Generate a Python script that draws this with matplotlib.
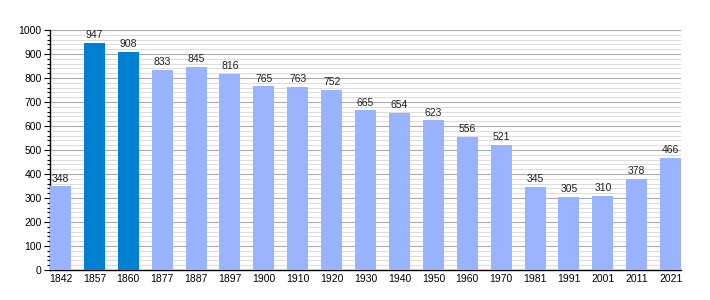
import matplotlib
matplotlib.use('Agg')
import matplotlib.pyplot as plt
from matplotlib.ticker import MultipleLocator

plt.rcParams['font.family'] = ['Liberation Sans', 'DejaVu Sans']

years = ['1842', '1857', '1860', '1877', '1887', '1897', '1900', '1910', '1920', '1930',
         '1940', '1950', '1960', '1970', '1981', '1991', '2001', '2011', '2021']
population = [348, 947, 908, 833, 845, 816, 765, 763, 752, 665,
              654, 623, 556, 521, 345, 305, 310, 378, 466]
highlight = ['1857', '1860']

colors = ['#0080d0' if y in highlight else '#99b3ff' for y in years]

fig = plt.figure(figsize=(7.1, 3.0), dpi=100)
ax = fig.add_axes([0.0704, 0.1, 0.889, 0.8])

x = range(len(years))
bars = ax.bar(x, population, width=0.62, color=colors, zorder=3)
for xi, v in zip(x, population):
    ax.text(xi, v + 12, str(v), ha='center', va='bottom', fontsize=7.5, color='#222222', zorder=4)

ax.set_xlim(-0.31, len(years) - 1 + 0.31)
ax.set_ylim(0, 1000)
ax.set_xticks(list(x))
ax.set_xticklabels(years)
ax.yaxis.set_major_locator(MultipleLocator(100))
ax.yaxis.set_minor_locator(MultipleLocator(20))
ax.grid(which='major', axis='y', color='#aaaaaa', linewidth=0.8, zorder=0)
ax.grid(which='minor', axis='y', color='#dddddd', linewidth=0.8, zorder=0)
ax.tick_params(axis='y', which='major', length=4, width=0.8, labelsize=7.5, pad=2)
ax.tick_params(axis='y', which='minor', length=2, width=0.8)
ax.tick_params(axis='x', length=0, labelsize=7.5, pad=3)
for s in ['top', 'right']:
    ax.spines[s].set_visible(False)
ax.spines['left'].set_linewidth(1)
ax.spines['bottom'].set_linewidth(1)

fig.savefig('out.png', dpi=100)
